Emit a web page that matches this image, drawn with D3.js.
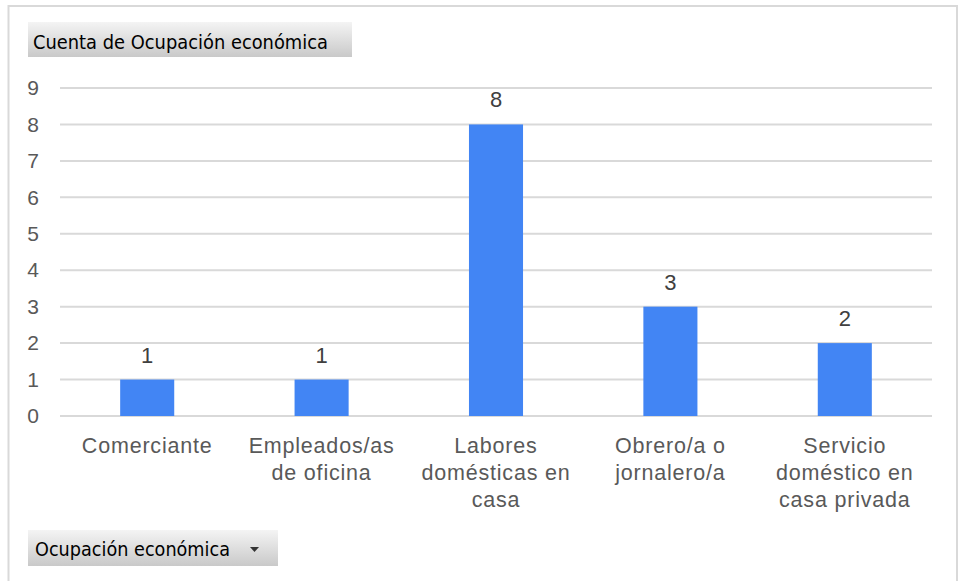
<!DOCTYPE html>
<html><head><meta charset="utf-8">
<script src="https://cdn.jsdelivr.net/npm/d3@7"></script>
<style>html,body{margin:0;padding:0;background:#fff;}svg{display:block;}</style>
</head><body>
<svg id="c" width="959" height="581"></svg>
<script>
const categories = ["Comerciante","Empleados/as de oficina","Labores domésticas en casa","Obrero/a o jornalero/a","Servicio doméstico en casa privada"];
const categoryLines = [["Comerciante"],["Empleados/as","de oficina"],["Labores","domésticas en","casa"],["Obrero/a o","jornalero/a"],["Servicio","doméstico en","casa privada"]];
const values = [1,1,8,3,2];
const yTicks = [0,1,2,3,4,5,6,7,8,9];
const topButton = "Cuenta de Ocupación económica";
const bottomButton = "Ocupación económica";

const svg = d3.select("#c");
const defs = svg.append("defs");
const g = defs.append("linearGradient").attr("id","btn").attr("x1",0).attr("y1",0).attr("x2",0).attr("y2",1);
g.append("stop").attr("offset","0%").attr("stop-color","#f4f4f4");
g.append("stop").attr("offset","100%").attr("stop-color","#c9c9c9");

// outer frame
svg.append("rect").attr("x",8.5).attr("y",6).attr("width",948.5).attr("height",590)
  .attr("fill","#fff").attr("stroke","#d9d9d9").attr("stroke-width",2);

const x = d3.scaleBand().domain(categories).range([60,932]).paddingInner(0.69).paddingOuter(0.345);
const y = d3.scaleLinear().domain([0,9]).range([416,88]);

// gridlines
svg.append("g").selectAll("line").data(yTicks).join("line")
  .attr("x1",60).attr("x2",932).attr("y1",d=>y(d)).attr("y2",d=>y(d))
  .attr("stroke","#d9d9d9").attr("stroke-width",2);

// y axis labels
const yAxis = d3.axisLeft(y).tickValues(yTicks).tickSize(0).tickPadding(0);
const ya = svg.append("g").attr("transform","translate(39,0)").call(yAxis);
ya.select(".domain").remove();
ya.selectAll("text").attr("font-family","Liberation Sans, Arial, sans-serif").attr("font-size",21).attr("fill","#595959");

// bars
svg.append("g").selectAll("rect").data(values).join("rect")
  .attr("x",(d,i)=>x(categories[i])).attr("width",x.bandwidth())
  .attr("y",d=>y(d)).attr("height",d=>y(0)-y(d)).attr("fill","#4285f4");

// data labels
svg.append("g").selectAll("text").data(values).join("text")
  .attr("x",(d,i)=>x(categories[i])+x.bandwidth()/2).attr("y",d=>y(d)-17)
  .attr("text-anchor","middle").attr("font-family","Liberation Sans, Arial, sans-serif")
  .attr("font-size",22).attr("fill","#404040").text(d=>d);

// category labels
const cl = svg.append("g").selectAll("text").data(categories).join("text")
  .attr("text-anchor","middle").attr("font-family","Liberation Sans, Arial, sans-serif")
  .attr("font-size",21.5).attr("letter-spacing","0.8px").attr("fill","#595959");
cl.each(function(c,i){
  const t = d3.select(this);
  categoryLines[i].forEach((ln,j)=>{
    t.append("tspan").attr("x",x(c)+x.bandwidth()/2).attr("y",452.5+j*27).text(ln);
  });
});

// top button
svg.append("rect").attr("x",28).attr("y",22).attr("width",324).attr("height",35).attr("fill","url(#btn)");
svg.append("text").attr("x",33).attr("y",49).attr("font-family","DejaVu Sans, sans-serif").attr("font-size",20)
  .attr("fill","#000").attr("textLength",295).attr("lengthAdjust","spacingAndGlyphs").text(topButton);

// bottom button
svg.append("rect").attr("x",28).attr("y",530).attr("width",250).attr("height",36).attr("fill","url(#btn)");
svg.append("text").attr("x",35).attr("y",556).attr("font-family","DejaVu Sans, sans-serif").attr("font-size",20)
  .attr("fill","#000").attr("textLength",195).attr("lengthAdjust","spacingAndGlyphs").text(bottomButton);
svg.append("path").attr("d",d3.line()([[250,547],[259,547],[254.5,552]])+"Z").attr("fill","#333");
</script>
</body></html>
